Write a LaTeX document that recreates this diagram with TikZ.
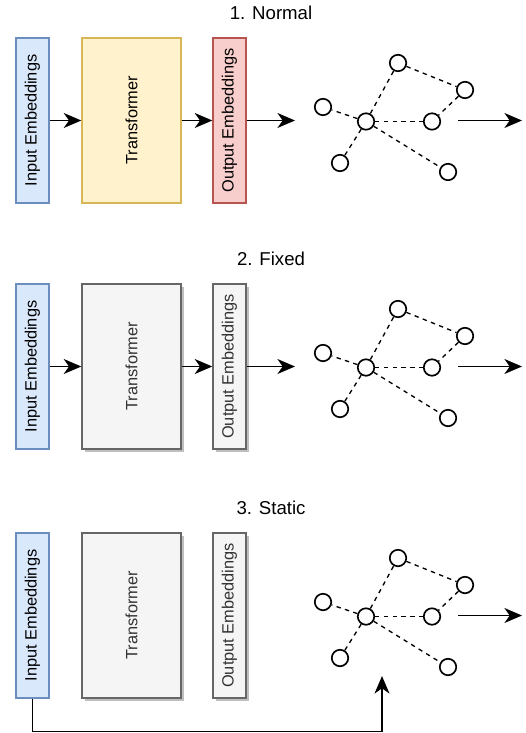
\documentclass[tikz,border=0pt]{standalone}
\usepackage{fontspec}
\setmainfont{Liberation Sans}
\usetikzlibrary{arrows.meta, positioning, shadows}
\definecolor{embfill}{HTML}{DAE8FC}
\definecolor{embdraw}{HTML}{6C8EBF}
\definecolor{trffill}{HTML}{FFF2CC}
\definecolor{trfdraw}{HTML}{D6B656}
\definecolor{outfill}{HTML}{F8CECC}
\definecolor{outdraw}{HTML}{B85450}
\definecolor{frzfill}{HTML}{F5F5F5}
\definecolor{frzdraw}{HTML}{666666}
\definecolor{frztext}{HTML}{333333}

\tikzset{
	block/.style={draw, line width=0.8pt, inner sep=0pt, minimum height=3.3cm, font=\fontsize{9.3}{11}\selectfont},
	thin block/.style={block, minimum width=0.66cm},
	wide block/.style={block, minimum width=1.98cm},
	input/.style={thin block, fill=embfill, draw=embdraw},
	normal trf/.style={wide block, fill=trffill, draw=trfdraw},
	normal out/.style={thin block, fill=outfill, draw=outdraw},
	frozen/.style={fill=frzfill, draw=frzdraw, text=frztext,
		drop shadow={shadow xshift=0.06cm, shadow yshift=-0.06cm, fill=black, opacity=0.25}},
	vertex/.style={circle, draw, line width=0.95pt, minimum size=0.33cm, inner sep=0pt},
	link/.style={dash pattern=on 2.5pt off 2.5pt, line width=0.75pt},
	flow/.style={line width=0.85pt, -{Stealth[length=10pt, width=8.5pt, inset=3pt]}},
	title/.style={font=\fontsize{10.6}{12}\selectfont}
}

\begin{document}
\begin{tikzpicture}[x=0.02cm, y=-0.02cm]
	\useasboundingbox (0,0) rectangle (525,733);

	% 1. Normal
	\node[title] (head1) at (271,13) {1. Normal};
	\node[input] (in1) at (32.5,120.5) {\rotatebox{90}{Input Embeddings}};
	\node[normal trf] (tr1) at (131.5,120.5) {\rotatebox{90}{Transformer}};
	\node[normal out] (out1) at (229.5,120.5) {\rotatebox{90}{Output Embeddings}};
	\coordinate (g1) at (295,120.5);
	\draw[flow] (in1) -- (tr1);
	\draw[flow] (tr1) -- (out1);
	\draw[flow] (out1) -- (g1);

	% 2. Fixed
	\node[title] (head2) at (271,259) {2. Fixed};
	\node[input] (in2) at (32.5,366.5) {\rotatebox{90}{Input Embeddings}};
	\node[wide block, frozen] (tr2) at (131.5,366.5) {\rotatebox{90}{Transformer}};
	\node[thin block, frozen] (out2) at (229.5,366.5) {\rotatebox{90}{Output Embeddings}};
	\coordinate (g2) at (295,366.5);
	\draw[flow] (in2) -- (tr2);
	\draw[flow] (tr2) -- (out2);
	\draw[flow] (out2) -- (g2);

	% 3. Static
	\node[title] (head3) at (271,508) {3. Static};
	\node[input] (in3) at (32.5,615.5) {\rotatebox{90}{Input Embeddings}};
	\node[wide block, frozen] (tr3) at (131.5,615.5) {\rotatebox{90}{Transformer}};
	\node[thin block, frozen] (out3) at (229.5,615.5) {\rotatebox{90}{Output Embeddings}};
	\coordinate (g3) at (382,676);
	\draw[flow] (in3.south) -- ++(0,33) -| (g3);

	% graphs
	\foreach \s/\dy in {1/0, 2/246, 3/495} {
		\node[vertex] (top\s) at (398,{63+\dy}) {};
		\node[vertex] (rt\s) at (465,{90+\dy}) {};
		\node[vertex] (lf\s) at (323,{107+\dy}) {};
		\node[vertex] (hub\s) at (366,{121.5+\dy}) {};
		\node[vertex] (mr\s) at (432,{121.5+\dy}) {};
		\node[vertex] (bl\s) at (340,{163+\dy}) {};
		\node[vertex] (br\s) at (448,{172+\dy}) {};
		\draw[link] (hub\s) -- (top\s);
		\draw[link] (hub\s) -- (lf\s);
		\draw[link] (hub\s) -- (mr\s);
		\draw[link] (hub\s) -- (bl\s);
		\draw[link] (hub\s) -- (br\s);
		\draw[link] (top\s) -- (rt\s);
		\draw[link] (rt\s) -- (mr\s);
		\coordinate (from\s) at (458,{120.5+\dy});
		\coordinate (to\s) at (522,{120.5+\dy});
		\draw[flow] (from\s) -- (to\s);
	}
\end{tikzpicture}
\end{document}
